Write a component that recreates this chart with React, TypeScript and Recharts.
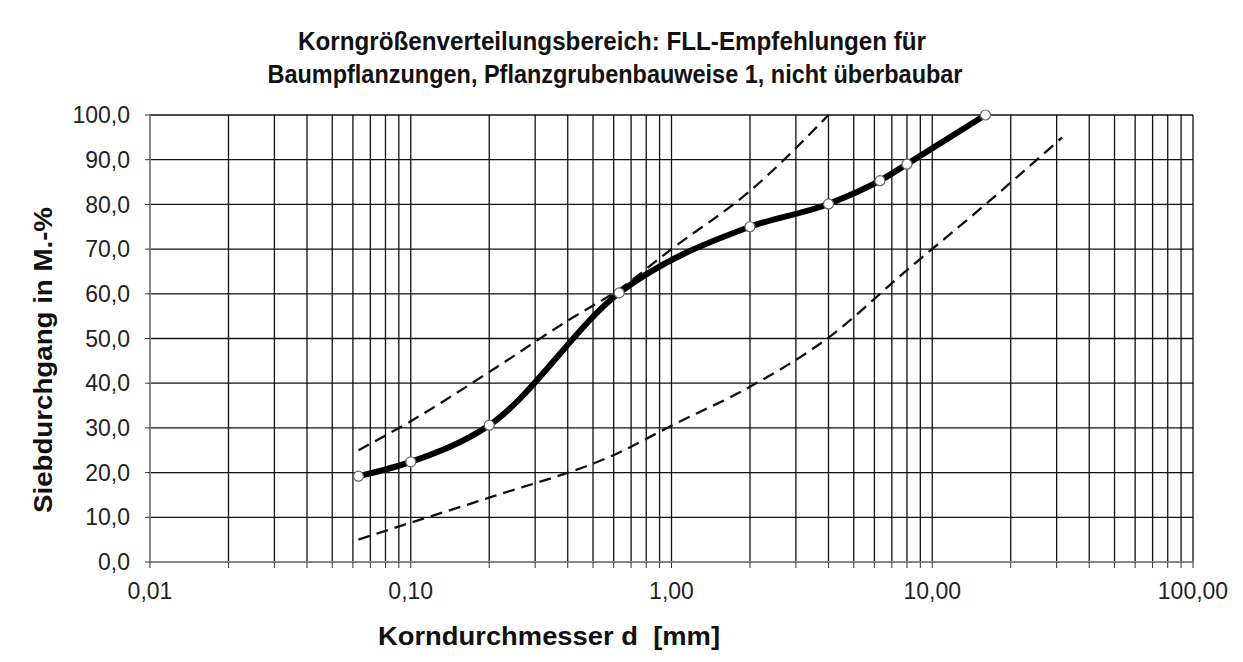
import { LineChart, Line, XAxis, YAxis, CartesianGrid } from 'recharts';

// Sieve analysis (grain size in mm, passing in mass-%)
const sampleSizes = [0.063, 0.1, 0.2, 0.63, 2, 4, 6.3, 8, 16];
const samplePassing = [19.2, 22.4, 30.6, 60.2, 75, 80.1, 85.3, 89, 100];

// FLL range, upper limit
const upperSizes = [0.063, 0.1, 0.2, 0.4, 0.63, 1, 2, 4];
const upperPassing = [25, 31.5, 42.5, 54, 61, 70, 83, 100];

// FLL range, lower limit
const lowerSizes = [0.063, 0.1, 0.2, 0.63, 1, 2, 4, 8, 16, 31.5];
const lowerPassing = [5, 8.8, 14.4, 24.5, 30.5, 39.2, 50.2, 65.3, 80, 95];

const majorTicks = [0.01, 0.1, 1, 10, 100];
const majorLabels = ['0,01', '0,10', '1,00', '10,00', '100,00'];
const minorSteps = [1, 2, 3, 4, 5, 6, 7, 8, 9];
const yTicks = [0, 10, 20, 30, 40, 50, 60, 70, 80, 90, 100];

const xTicks = [
  ...majorTicks.slice(0, -1).flatMap((d) => minorSteps.map((m) => Number((d * m).toPrecision(3)))),
  100,
];

const toPoints = (xs: number[], ys: number[]) => xs.map((d, i) => ({ d, p: ys[i] }));

const sampleData = toPoints(sampleSizes, samplePassing);
const upperData = toPoints(upperSizes, upperPassing);
const lowerData = toPoints(lowerSizes, lowerPassing);

const FONT = '"Liberation Sans", Arial, Helvetica, sans-serif';

const formatX = (v: number) => {
  const i = majorTicks.findIndex((t) => Math.abs(t - v) < 1e-9);
  return i >= 0 ? majorLabels[i] : '';
};
const formatY = (v: number) => v.toFixed(1).replace('.', ',');

export default function App() {
  return (
    <div style={{ position: 'relative', width: 1227, height: 646, fontFamily: FONT }}>
      <LineChart
        width={1243}
        height={662}
        margin={{ top: 115, right: 50, bottom: 50, left: 50 }}
        style={{ position: 'absolute', left: -8, top: -8 }}
      >
        <CartesianGrid stroke="#111" strokeWidth={1.3} />
        <XAxis
          dataKey="d"
          type="number"
          scale="log"
          domain={[0.01, 100]}
          allowDataOverflow
          ticks={xTicks}
          interval={0}
          tickFormatter={formatX}
          height={50}
          tickSize={6}
          tickMargin={15}
          axisLine={{ stroke: '#888', strokeWidth: 2 }}
          tickLine={{ stroke: '#333' }}
          tick={{ fontSize: 23, fill: '#222', fontFamily: FONT }}
        />
        <YAxis
          type="number"
          domain={[0, 100]}
          ticks={yTicks}
          interval={0}
          tickFormatter={formatY}
          width={100}
          tickSize={5}
          tickMargin={15}
          axisLine={{ stroke: '#888', strokeWidth: 2 }}
          tickLine={{ stroke: '#333' }}
          tick={{ fontSize: 23, fill: '#222', fontFamily: FONT }}
        />
        <Line
          data={lowerData}
          dataKey="p"
          type="monotone"
          stroke="#111"
          strokeWidth={2.3}
          strokeDasharray="12 7"
          dot={false}
          activeDot={false}
          isAnimationActive={false}
        />
        <Line
          data={upperData}
          dataKey="p"
          type="monotone"
          stroke="#111"
          strokeWidth={2.3}
          strokeDasharray="12 7"
          dot={false}
          activeDot={false}
          isAnimationActive={false}
        />
        <Line
          data={sampleData}
          dataKey="p"
          type="monotone"
          stroke="#000"
          strokeWidth={6}
          dot={{ r: 5, fill: '#fff', stroke: '#666', strokeWidth: 1.2 }}
          activeDot={false}
          isAnimationActive={false}
        />
      </LineChart>

      <svg
        width={1243}
        height={662}
        style={{ position: 'absolute', left: -8, top: -8, pointerEvents: 'none' }}
      >
        <line x1={7} y1={0} x2={7} y2={662} stroke="#999" strokeWidth={2} />
        <g fontFamily={FONT} fontWeight="bold" fill="#111" textAnchor="middle">
          <text x={612} y={50} fontSize={25} textLength={628} lengthAdjust="spacingAndGlyphs">
            Korngrößenverteilungsbereich:  FLL-Empfehlungen für
          </text>
          <text x={615} y={83} fontSize={25} textLength={695} lengthAdjust="spacingAndGlyphs">
            Baumpflanzungen, Pflanzgrubenbauweise 1, nicht überbaubar
          </text>
          <text
            x={549}
            y={645}
            fontSize={25}
            textLength={342}
            lengthAdjust="spacingAndGlyphs"
            style={{ whiteSpace: 'pre' }}
          >
            {'Korndurchmesser d  [mm]'}
          </text>
          <text
            transform="rotate(-90)"
            x={-360}
            y={52}
            fontSize={25}
            textLength={306}
            lengthAdjust="spacingAndGlyphs"
          >
            Siebdurchgang in M.-%
          </text>
        </g>
      </svg>
    </div>
  );
}
